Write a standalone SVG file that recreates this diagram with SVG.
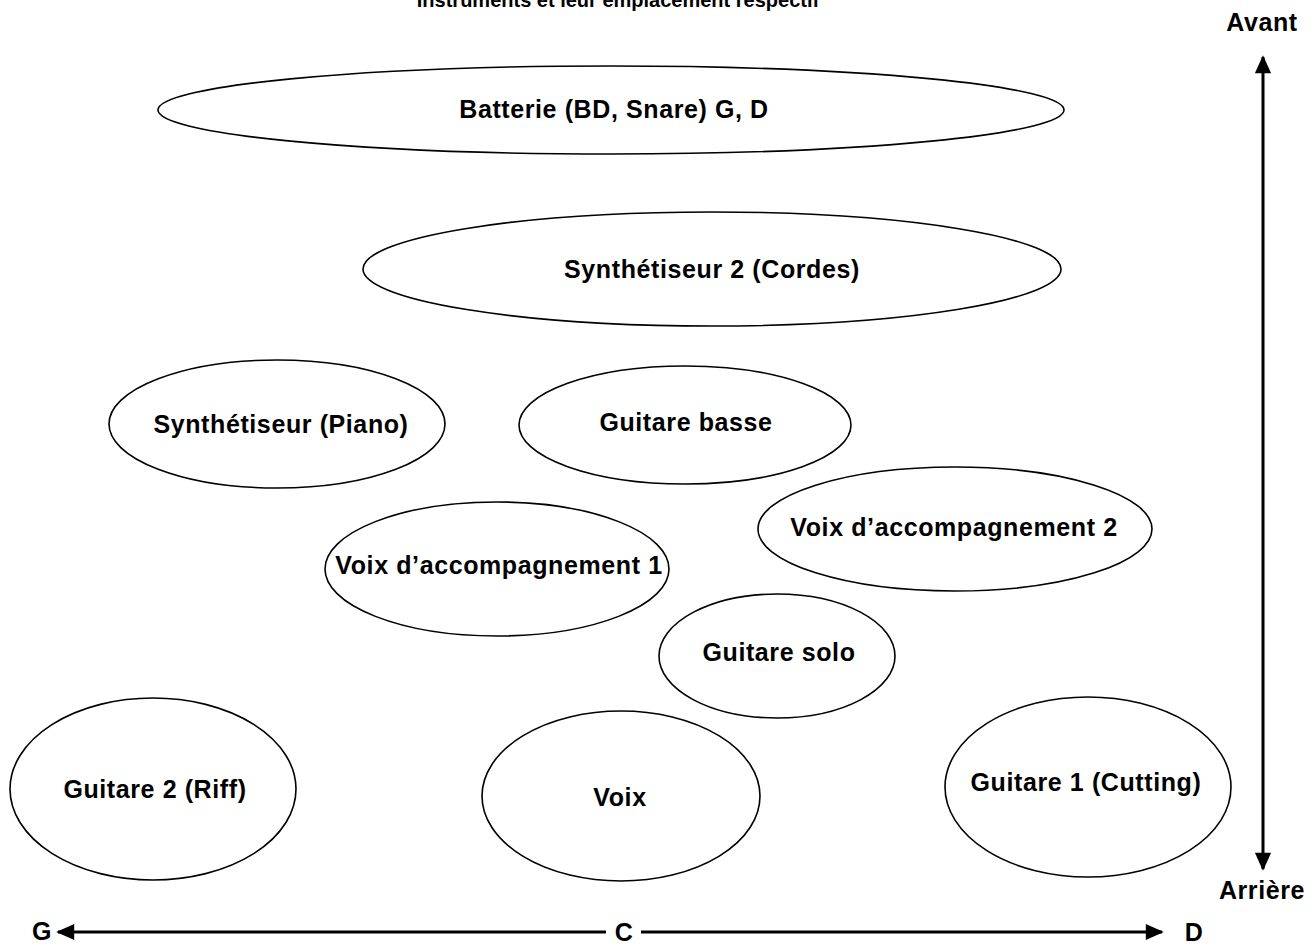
<svg xmlns="http://www.w3.org/2000/svg" width="1315" height="946" viewBox="0 0 1315 946">
<defs>
<style>
.n{fill:none;stroke:#000;stroke-width:1.6}
.t{font-family:"Liberation Sans",Arial,sans-serif;font-weight:bold;font-size:25px;letter-spacing:0.6px;fill:#000;text-anchor:middle}
.h{paint-order:stroke;stroke:#fff;stroke-width:6}
.ax{stroke:#000;stroke-width:3;fill:none}
</style>
<marker id="ah" viewBox="0 0 10 10" refX="9" refY="5" markerWidth="7.5" markerHeight="6" markerUnits="strokeWidth" orient="auto-start-reverse">
<path d="M0,0.5 L10,5 L0,9.5 Z" fill="#000"/>
</marker>
</defs>
<rect width="1315" height="946" fill="#fff"/>
<text class="t" x="618" y="7" style="font-size:20px;letter-spacing:0">Instruments et leur emplacement respectif</text>
<g id="batterie"><ellipse class="n" cx="611" cy="110" rx="453" ry="44"/><text class="t" x="614" y="118">Batterie (BD, Snare) G, D</text></g>
<g id="synth2"><ellipse class="n" cx="712" cy="269" rx="349" ry="57"/><text class="t" x="712" y="278">Synthétiseur 2 (Cordes)</text></g>
<g id="synthpiano"><ellipse class="n" cx="277" cy="424" rx="168" ry="64"/><text class="t" x="281" y="433">Synthétiseur (Piano)</text></g>
<g id="basse"><ellipse class="n" cx="685" cy="425" rx="166" ry="59"/><text class="t" x="686" y="431">Guitare basse</text></g>
<g id="voixacc2"><ellipse class="n" cx="955" cy="529" rx="197" ry="62"/><text class="t" x="954" y="536">Voix d’accompagnement 2</text></g>
<g id="voixacc1"><ellipse class="n" cx="497" cy="569" rx="172" ry="67"/><text class="t h" x="499" y="574">Voix d’accompagnement 1</text></g>
<g id="solo"><ellipse class="n" cx="777" cy="656" rx="118" ry="62"/><text class="t" x="779" y="661">Guitare solo</text></g>
<g id="guitare2"><ellipse class="n" cx="153" cy="789" rx="143" ry="91"/><text class="t" x="155" y="798">Guitare 2 (Riff)</text></g>
<g id="voix"><ellipse class="n" cx="621" cy="796" rx="139" ry="85"/><text class="t" x="620" y="806">Voix</text></g>
<g id="guitare1"><ellipse class="n" cx="1088" cy="787" rx="143" ry="90"/><text class="t" x="1086" y="791">Guitare 1 (Cutting)</text></g>
<g id="connectors">
<line class="ax" x1="1263" y1="57" x2="1263" y2="869" marker-start="url(#ah)" marker-end="url(#ah)"/>
<line class="ax" x1="58" y1="932" x2="606" y2="932" marker-start="url(#ah)"/>
<line class="ax" x1="641" y1="932" x2="1162" y2="932" marker-end="url(#ah)"/>
</g>
<g id="labels">
<text class="t" x="1262" y="31">Avant</text>
<text class="t" x="1262" y="899">Arrière</text>
<text class="t" x="42" y="940">G</text>
<text class="t" x="624" y="941">C</text>
<text class="t" x="1194" y="941">D</text>
</g>
</svg>
